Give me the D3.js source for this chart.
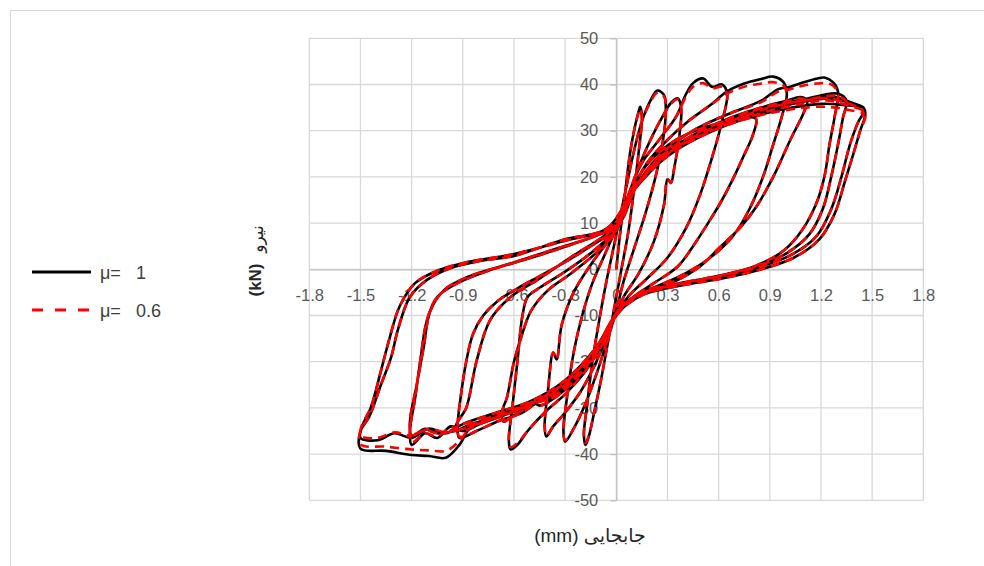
<!DOCTYPE html>
<html>
<head>
<meta charset="utf-8">
<script src="https://cdn.jsdelivr.net/npm/d3@7"></script>
<style>
  body { margin: 0; background: #fff; }
  svg { display: block; }
</style>
</head>
<body>
<svg id="chart" width="984" height="566"></svg>
<script>
// Axis ticks
const xTicks = [-1.8, -1.5, -1.2, -0.9, -0.6, -0.3, 0, 0.3, 0.6, 0.9, 1.2, 1.5, 1.8];
const yTicks = [-50, -40, -30, -20, -10, 0, 10, 20, 30, 40, 50];

// Legend entries
const seriesLabels = ["1", "0.6"];

// Hysteresis path, μ = 1 : [displacement (mm), force (kN)]
const hystMu1 = [
  [0,0],[0.02,7],[0.05,16],[0.08,25],[0.11,31],[0.13,34],[0.14,35.2],[0.15,33],[0.13,25],[0.1,16],[0.07,8],[0.03,0],
  [-0.01,-8],[-0.05,-16],[-0.09,-24],[-0.13,-31],[-0.16,-36],[-0.18,-38],[-0.19,-36],[-0.17,-29],[-0.14,-20],[-0.1,-11],[-0.06,-3],[-0.02,4],[0.02,11],
  [0.06,18],[0.1,25],[0.15,32],[0.2,36.5],[0.24,38.7],[0.28,37.7],[0.29,34],[0.27,27],[0.23,20],[0.17,12],[0.1,4],[0.04,-3],[0,-9],
  [-0.05,-15],[-0.11,-22],[-0.18,-29],[-0.25,-34.5],[-0.3,-37.3],[-0.31,-35],[-0.29,-28],[-0.25,-18],[-0.2,-10],[-0.14,-3],[-0.07,3],[0,9],
  [0.06,15],[0.13,22],[0.2,28],[0.27,33],[0.32,36],[0.36,37],[0.38,35],[0.37,29],[0.34,22],[0.32,18.7],[0.3,19.5],[0.28,14],[0.22,6],[0.13,-1],[0.05,-5.5],[0,-9.5],
  [-0.06,-15],[-0.13,-21],[-0.21,-26.5],[-0.3,-31],[-0.37,-34],[-0.41,-36.2],[-0.42,-34],[-0.4,-26],[-0.37,-18],[-0.35,-19.5],[-0.32,-12],[-0.25,-5],[-0.15,1],[-0.05,6],[0.02,10],
  [0.08,17],[0.15,23],[0.25,28],[0.35,33],[0.41,38],[0.45,40.3],[0.51,41.3],[0.56,39.5],[0.62,40],[0.65,38],[0.62,32],[0.56,24],[0.49,16],[0.41,9],[0.3,2.5],[0.18,-2],[0.08,-5.5],[0,-9.5],
  [-0.08,-16],[-0.18,-22],[-0.3,-27],[-0.42,-31],[-0.52,-35],[-0.58,-38],[-0.62,-39],[-0.63,-37],[-0.61,-30],[-0.58,-20],[-0.55,-10],[-0.52,-6],[-0.45,-4],[-0.3,-0.5],[-0.15,3.5],[-0.03,7.5],[0.03,11],
  [0.1,18],[0.2,23.5],[0.35,28],[0.5,30.5],[0.65,32],[0.78,33],[0.82,32.5],[0.8,29],[0.74,24],[0.69,20],[0.62,15],[0.55,10.7],[0.45,5],[0.36,0.6],[0.22,-3],[0.1,-6],[0,-10],
  [-0.1,-17],[-0.22,-23],[-0.35,-27.5],[-0.45,-29.5],[-0.5,-28.5],[-0.55,-30.5],[-0.62,-32],[-0.66,-33],[-0.67,-31],[-0.64,-27.6],[-0.6,-20],[-0.56,-15],[-0.5,-9],[-0.4,-4.5],[-0.27,-1],[-0.12,3.5],[0,8.5],
  [0.08,16],[0.18,23],[0.3,28],[0.42,32],[0.55,35.5],[0.65,38.5],[0.75,40.2],[0.85,41.2],[0.92,41.7],[0.98,40.5],[1.0,38],[0.97,33],[0.92,27],[0.86,20],[0.78,13],[0.68,7],[0.55,2.5],[0.4,-1],[0.25,-3.5],[0.1,-6],[0,-9.5],
  [-0.1,-16.5],[-0.25,-24],[-0.38,-28],[-0.45,-28.5],[-0.55,-31],[-0.7,-33],[-0.82,-35],[-0.92,-36.5],[-0.93,-34],[-0.91,-27],[-0.88,-20],[-0.84,-14],[-0.78,-10],[-0.7,-7],[-0.55,-3.5],[-0.35,0.5],[-0.15,5],[0,9],
  [0.1,17],[0.25,24],[0.45,29],[0.65,32.5],[0.85,35],[1.0,36.5],[1.08,37.3],[1.12,36.5],[1.1,34],[1.02,28],[0.92,20],[0.82,13.5],[0.73,9.2],[0.6,4.5],[0.49,0.6],[0.35,-2.5],[0.2,-4.5],[0.08,-7],[0,-10],
  [-0.1,-17],[-0.25,-24],[-0.4,-28],[-0.48,-29],[-0.55,-30],[-0.7,-32],[-0.85,-33.5],[-0.95,-35],[-0.93,-33],[-0.88,-30],[-0.82,-20],[-0.74,-11],[-0.62,-6],[-0.45,-2],[-0.25,3],[-0.08,7],[0.02,10],
  [0.1,17],[0.25,24.5],[0.45,30],[0.65,33.5],[0.85,36.5],[0.95,39],[1.02,39.5],[1.1,40.5],[1.18,41.3],[1.22,41.5],[1.27,40.5],[1.3,38.5],[1.28,33],[1.25,27],[1.22,20],[1.17,14],[1.09,8.5],[0.98,4],[0.82,0.8],[0.6,-1.5],[0.4,-3],[0.2,-4.8],[0.07,-7],[0,-9.5],
  [-0.1,-16],[-0.25,-23.5],[-0.45,-28.5],[-0.65,-31.5],[-0.8,-33.5],[-0.9,-35],[-0.97,-34],[-1.05,-36.5],[-1.12,-35.5],[-1.2,-38],[-1.21,-35],[-1.18,-28],[-1.15,-20],[-1.11,-11],[-1.05,-6],[-0.93,-3],[-0.75,-0.3],[-0.5,2.5],[-0.25,5.5],[-0.05,8.5],[0.02,10.5],
  [0.12,18],[0.3,25.5],[0.5,30],[0.7,33],[0.9,35.3],[1.1,36.8],[1.22,37.8],[1.3,38],[1.35,36.5],[1.33,33],[1.3,27],[1.26,20],[1.21,13],[1.13,7.5],[1.0,3.5],[0.85,1],[0.65,-1],[0.45,-2.5],[0.25,-4.2],[0.1,-6],[0,-9.5],
  [-0.12,-17],[-0.3,-24.5],[-0.5,-29],[-0.7,-32],[-0.9,-34.5],[-1.05,-35.5],[-1.12,-34.5],[-1.2,-36],[-1.21,-33],[-1.17,-25],[-1.13,-17],[-1.09,-9],[-1.01,-4.5],[-0.86,-1.5],[-0.6,1.5],[-0.35,4.5],[-0.1,7.5],[0.02,10],
  [0.12,18],[0.3,25],[0.5,29.5],[0.7,32.5],[0.9,35],[1.1,36.8],[1.25,37.5],[1.35,36.5],[1.42,35.5],[1.44,35.2],[1.45,34],[1.42,32],[1.37,27],[1.32,20],[1.26,13],[1.17,7],[1.02,3],[0.82,0.3],[0.6,-1.5],[0.35,-3.2],[0.15,-5.2],[0.04,-8],[0,-10],
  [-0.12,-17],[-0.3,-24.5],[-0.5,-29],[-0.7,-31.5],[-0.85,-34],[-0.92,-38],[-1.0,-40.8],[-1.1,-40.4],[-1.2,-40.2],[-1.35,-39.3],[-1.5,-38.8],[-1.5,-35],[-1.45,-32],[-1.38,-25],[-1.32,-19],[-1.28,-13],[-1.21,-6],[-1.11,-2.3],[-0.97,0.3],[-0.8,1.8],[-0.6,2.9],[-0.3,6.5],[-0.11,7.9],[0,10],
  [0.12,18],[0.3,25],[0.5,29],[0.7,32],[0.9,34.5],[1.1,36.3],[1.25,37],[1.35,36.2],[1.45,35],[1.46,33.5],[1.43,30],[1.39,25],[1.34,19],[1.28,12],[1.19,6.5],[1.04,2.5],[0.85,0],[0.62,-2],[0.38,-3.5],[0.17,-5.3],[0.05,-8],[0,-10],
  [-0.12,-17],[-0.3,-24],[-0.5,-28.5],[-0.7,-31],[-0.9,-33.5],[-1.0,-35.5],[-1.1,-34.5],[-1.2,-36.5],[-1.3,-35.5],[-1.4,-37],[-1.5,-36.5],[-1.49,-34],[-1.44,-30],[-1.38,-22],[-1.33,-15],[-1.27,-8],[-1.18,-3],[-1.05,-0.3],[-0.88,1.5],[-0.6,3.3],[-0.3,6.2],[-0.05,9],
  [0.1,17],[0.3,24.5],[0.6,30.5],[0.9,34],[1.2,35.8],[1.35,35.5],[1.45,35]
];

// Hysteresis path, μ = 0.6 : [displacement (mm), force (kN)]
const hystMu06 = [
  [0,0],[0.02,7],[0.05,16],[0.08,25],[0.11,31],[0.13,33.8],[0.14,34.8],[0.15,32.8],[0.13,25],[0.1,16],[0.07,8],[0.03,0],
  [-0.01,-8],[-0.05,-16],[-0.09,-24],[-0.13,-31],[-0.16,-35.8],[-0.18,-37.6],[-0.19,-35.8],[-0.17,-29],[-0.14,-20],[-0.1,-11],[-0.06,-3],[-0.02,4],[0.02,11],
  [0.06,18],[0.1,25],[0.15,32],[0.2,36.2],[0.24,38.2],[0.28,37.4],[0.29,34],[0.27,27],[0.23,20],[0.17,12],[0.1,4],[0.04,-3],[0,-9],
  [-0.05,-15],[-0.11,-22],[-0.18,-29],[-0.25,-34.5],[-0.3,-37],[-0.31,-35],[-0.29,-28],[-0.25,-18],[-0.2,-10],[-0.14,-3],[-0.07,3],[0,9],
  [0.06,15],[0.13,22],[0.2,28],[0.27,33],[0.32,35.8],[0.36,36.8],[0.38,35],[0.37,29],[0.34,22],[0.32,18.7],[0.3,19.5],[0.28,14],[0.22,6],[0.13,-1],[0.05,-5.5],[0,-9.5],
  [-0.06,-15],[-0.13,-21],[-0.21,-26.5],[-0.3,-31],[-0.37,-34],[-0.41,-36],[-0.42,-34],[-0.4,-26],[-0.37,-18],[-0.35,-19.5],[-0.32,-12],[-0.25,-5],[-0.15,1],[-0.05,6],[0.02,10],
  [0.08,17],[0.15,23],[0.25,28],[0.35,33],[0.41,37.5],[0.45,39.5],[0.51,40.3],[0.56,39.2],[0.62,39.5],[0.65,37.8],[0.62,32],[0.56,24],[0.49,16],[0.41,9],[0.3,2.5],[0.18,-2],[0.08,-5.5],[0,-9.5],
  [-0.08,-16],[-0.18,-22],[-0.3,-27],[-0.42,-31],[-0.52,-35],[-0.58,-37.6],[-0.62,-38.5],[-0.63,-36.8],[-0.61,-30],[-0.58,-20],[-0.55,-10],[-0.52,-6],[-0.45,-4],[-0.3,-0.5],[-0.15,3.5],[-0.03,7.5],[0.03,11],
  [0.1,18],[0.2,23.5],[0.35,28],[0.5,30.5],[0.65,32],[0.78,33],[0.82,32.5],[0.8,29],[0.74,24],[0.69,20],[0.62,15],[0.55,10.7],[0.45,5],[0.36,0.6],[0.22,-3],[0.1,-6],[0,-10],
  [-0.1,-17],[-0.22,-23],[-0.35,-27.5],[-0.45,-29.5],[-0.5,-28.8],[-0.55,-30.5],[-0.62,-32],[-0.66,-33],[-0.67,-31],[-0.64,-27.6],[-0.6,-20],[-0.56,-15],[-0.5,-9],[-0.4,-4.5],[-0.27,-1],[-0.12,3.5],[0,8.5],
  [0.08,16],[0.18,23],[0.3,28],[0.42,32],[0.55,35.5],[0.65,38],[0.75,39.5],[0.85,40.2],[0.92,40.5],[0.98,39.8],[1.0,37.6],[0.97,33],[0.92,27],[0.86,20],[0.78,13],[0.68,7],[0.55,2.5],[0.4,-1],[0.25,-3.5],[0.1,-6],[0,-9.5],
  [-0.1,-16.5],[-0.25,-24],[-0.38,-28],[-0.45,-28.5],[-0.55,-31],[-0.7,-33],[-0.82,-35],[-0.92,-36.2],[-0.93,-34],[-0.91,-27],[-0.88,-20],[-0.84,-14],[-0.78,-10],[-0.7,-7],[-0.55,-3.5],[-0.35,0.5],[-0.15,5],[0,9],
  [0.1,17],[0.25,24],[0.45,29],[0.65,32.5],[0.85,35],[1.0,36.3],[1.08,37],[1.12,36.3],[1.1,34],[1.02,28],[0.92,20],[0.82,13.5],[0.73,9.2],[0.6,4.5],[0.49,0.6],[0.35,-2.5],[0.2,-4.5],[0.08,-7],[0,-10],
  [-0.1,-17],[-0.25,-24],[-0.4,-28],[-0.48,-29],[-0.55,-30],[-0.7,-32],[-0.85,-33.5],[-0.95,-35],[-0.93,-33],[-0.88,-30],[-0.82,-20],[-0.74,-11],[-0.62,-6],[-0.45,-2],[-0.25,3],[-0.08,7],[0.02,10],
  [0.1,17],[0.25,24.5],[0.45,30],[0.65,33.5],[0.85,36.2],[0.95,38.5],[1.02,39],[1.1,39.8],[1.18,40.2],[1.22,40.3],[1.27,39.8],[1.3,38],[1.28,33],[1.25,27],[1.22,20],[1.17,14],[1.09,8.5],[0.98,4],[0.82,0.8],[0.6,-1.5],[0.4,-3],[0.2,-4.8],[0.07,-7],[0,-9.5],
  [-0.1,-16],[-0.25,-23.5],[-0.45,-28.5],[-0.65,-31.5],[-0.8,-33.5],[-0.9,-35],[-0.97,-34.2],[-1.05,-36.2],[-1.12,-35.5],[-1.2,-37.5],[-1.21,-35],[-1.18,-28],[-1.15,-20],[-1.11,-11],[-1.05,-6],[-0.93,-3],[-0.75,-0.3],[-0.5,2.5],[-0.25,5.5],[-0.05,8.5],[0.02,10.5],
  [0.12,18],[0.3,25.5],[0.5,30],[0.7,33],[0.9,35.3],[1.1,36.6],[1.22,37.4],[1.3,37.5],[1.35,36.2],[1.33,33],[1.3,27],[1.26,20],[1.21,13],[1.13,7.5],[1.0,3.5],[0.85,1],[0.65,-1],[0.45,-2.5],[0.25,-4.2],[0.1,-6],[0,-9.5],
  [-0.12,-17],[-0.3,-24.5],[-0.5,-29],[-0.7,-32],[-0.9,-34.5],[-1.05,-35.5],[-1.12,-34.8],[-1.2,-35.8],[-1.21,-33],[-1.17,-25],[-1.13,-17],[-1.09,-9],[-1.01,-4.5],[-0.86,-1.5],[-0.6,1.5],[-0.35,4.5],[-0.1,7.5],[0.02,10],
  [0.12,18],[0.3,25],[0.5,29.5],[0.7,32.5],[0.9,35],[1.1,36.5],[1.25,37],[1.35,36],[1.42,35],[1.44,34.6],[1.45,33.6],[1.42,32],[1.37,27],[1.32,20],[1.26,13],[1.17,7],[1.02,3],[0.82,0.3],[0.6,-1.5],[0.35,-3.2],[0.15,-5.2],[0.04,-8],[0,-10],
  [-0.12,-17],[-0.3,-24.5],[-0.5,-29],[-0.7,-31.5],[-0.85,-34],[-0.92,-37.2],[-1.0,-39.3],[-1.1,-39.2],[-1.2,-39],[-1.35,-38.4],[-1.5,-37.9],[-1.5,-34.8],[-1.45,-32],[-1.38,-25],[-1.32,-19],[-1.28,-13],[-1.21,-6],[-1.11,-2.3],[-0.97,0.3],[-0.8,1.8],[-0.6,2.9],[-0.3,6.5],[-0.11,7.9],[0,10],
  [0.12,18],[0.3,25],[0.5,29],[0.7,32],[0.9,34.3],[1.1,35.9],[1.25,36.5],[1.35,35.5],[1.45,34.2],[1.46,33],[1.43,30],[1.39,25],[1.34,19],[1.28,12],[1.19,6.5],[1.04,2.5],[0.85,0],[0.62,-2],[0.38,-3.5],[0.17,-5.3],[0.05,-8],[0,-10],
  [-0.12,-17],[-0.3,-24],[-0.5,-28.5],[-0.7,-31],[-0.9,-33.5],[-1.0,-35.2],[-1.1,-34.5],[-1.2,-36],[-1.3,-35.3],[-1.4,-36.5],[-1.5,-36],[-1.49,-33.6],[-1.44,-30],[-1.38,-22],[-1.33,-15],[-1.27,-8],[-1.18,-3],[-1.05,-0.3],[-0.88,1.5],[-0.6,3.3],[-0.3,6.2],[-0.05,9],
  [0.1,17],[0.3,24.5],[0.6,30.5],[0.9,33.8],[1.2,35.2],[1.35,34.6],[1.45,33.8]
];

const svg = d3.select("#chart");
const tickFont = "'Liberation Sans', Arial, 'DejaVu Sans', sans-serif";

// Outer chart frame
svg.append("rect")
  .attr("x", 10.5).attr("y", 10.5)
  .attr("width", 1000).attr("height", 600)
  .attr("fill", "#fff").attr("stroke", "#d9d9d9").attr("stroke-width", 1);

const x = d3.scaleLinear().domain([-1.8, 1.8]).range([309.3, 923.3]);
const y = d3.scaleLinear().domain([-50, 50]).range([500.3, 38.3]);

// Tick labels with a plain hyphen for negatives
const fmt = d => String(+(+d).toFixed(1));

// Gridlines
const grid = svg.append("g").attr("stroke", "#d9d9d9").attr("stroke-width", 1.3);
grid.selectAll("line.v").data(xTicks).join("line")
  .attr("x1", d => x(d)).attr("x2", d => x(d))
  .attr("y1", y(-50)).attr("y2", y(50));
grid.selectAll("line.h").data(yTicks).join("line")
  .attr("x1", x(-1.8)).attr("x2", x(1.8))
  .attr("y1", d => y(d)).attr("y2", d => y(d));

// Axes through the origin
const xAxis = svg.append("g")
  .attr("transform", `translate(0,${y(0)})`)
  .call(d3.axisBottom(x).tickValues(xTicks).tickSize(0).tickPadding(20).tickFormat(fmt));
const yAxis = svg.append("g")
  .attr("transform", `translate(${x(0)},0)`)
  .call(d3.axisLeft(y).tickValues(yTicks).tickSize(6).tickSizeOuter(0).tickPadding(12).tickFormat(fmt));

[xAxis, yAxis].forEach(g => {
  g.select(".domain").attr("stroke", "#bfbfbf").attr("stroke-width", 1.3);
  g.selectAll(".tick line").attr("stroke", "#bfbfbf").attr("stroke-width", 1.3);
  g.selectAll(".tick text")
    .attr("fill", "#595959")
    .style("font-family", tickFont)
    .style("font-size", "16.5px");
});

// Hysteresis curves
const line = d3.line()
  .x(d => x(d[0]))
  .y(d => y(d[1]))
  .curve(d3.curveCatmullRom.alpha(0.5));

svg.append("path")
  .datum(hystMu1)
  .attr("d", line)
  .attr("fill", "none")
  .attr("stroke", "#000")
  .attr("stroke-width", 2.6)
  .attr("stroke-linejoin", "round");

svg.append("path")
  .datum(hystMu06)
  .attr("d", line)
  .attr("fill", "none")
  .attr("stroke", "#ff0000")
  .attr("stroke-width", 2.6)
  .attr("stroke-dasharray", "9,6")
  .attr("stroke-linejoin", "round");

// Axis titles
svg.append("text")
  .attr("x", 590).attr("y", 542)
  .attr("text-anchor", "middle")
  .attr("direction", "rtl")
  .style("direction", "rtl")
  .style("font-family", "'Liberation Sans', 'DejaVu Sans', sans-serif")
  .style("font-size", "19px")
  .attr("fill", "#262626")
  .text("جابجایی (mm)");

svg.append("text")
  .attr("transform", `translate(261,280) rotate(-90)`)
  .attr("text-anchor", "middle")
  .style("font-family", "'Liberation Sans', Arial, sans-serif")
  .style("font-size", "17px")
  .style("font-weight", "bold")
  .attr("fill", "#262626")
  .text("(kN)");

svg.append("text")
  .attr("transform", `translate(263,239) rotate(-90)`)
  .attr("text-anchor", "middle")
  .style("font-family", "'DejaVu Sans', sans-serif")
  .style("font-size", "17px")
  .attr("fill", "#262626")
  .text("نیرو");

// Legend
const legend = svg.append("g");
const legendRows = [
  { label: seriesLabels[0], color: "#000", dash: null, yPos: 272 },
  { label: seriesLabels[1], color: "#ff0000", dash: "11,12", yPos: 310 }
];
legendRows.forEach(r => {
  legend.append("line")
    .attr("x1", 32).attr("x2", 91)
    .attr("y1", r.yPos).attr("y2", r.yPos)
    .attr("stroke", r.color)
    .attr("stroke-width", 3.2)
    .attr("stroke-dasharray", r.dash);
  const t = legend.append("text")
    .attr("y", r.yPos + 6.5)
    .style("font-family", tickFont)
    .style("font-size", "18px")
    .attr("fill", "#404040");
  t.append("tspan").attr("x", 100).text("μ=");
  t.append("tspan").attr("x", 136).text(r.label);
});
</script>
</body>
</html>
